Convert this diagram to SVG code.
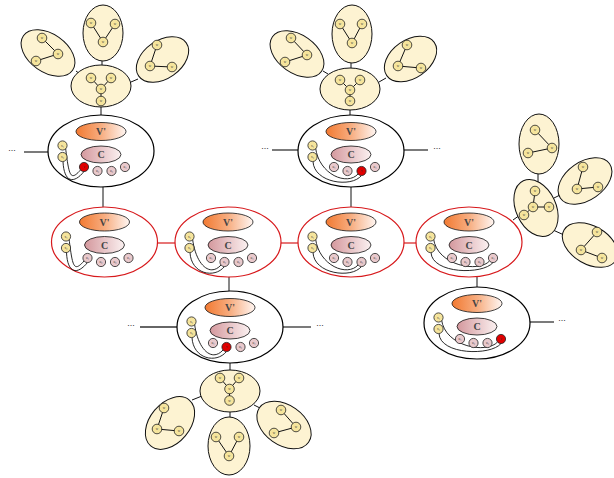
<svg xmlns="http://www.w3.org/2000/svg" width="614" height="478" viewBox="0 0 614 478">
<defs>
<linearGradient id="gV" x1="0" y1="0" x2="1" y2="0"><stop offset="0" stop-color="#f27a32"/><stop offset="0.5" stop-color="#f7ad80"/><stop offset="1" stop-color="#fff6f2"/></linearGradient>
<linearGradient id="gC" x1="0" y1="0" x2="1" y2="0"><stop offset="0" stop-color="#d4989d"/><stop offset="1" stop-color="#fbf1f1"/></linearGradient>
<style>
.big{fill:#fff;stroke:#000;stroke-width:1.2}
.red{fill:#fff;stroke:#d7191c;stroke-width:1.2}
.v{fill:url(#gV);stroke:#111;stroke-width:0.8}
.c{fill:url(#gC);stroke:#111;stroke-width:0.8}
.lab{font-family:"Liberation Serif",serif;font-size:10px;font-weight:bold;fill:#444;text-anchor:middle}
.y{fill:#f5e49c;stroke:#222;stroke-width:0.8}
.p{fill:#e9c9cc;stroke:#222;stroke-width:0.8}
.r{fill:#e00000;stroke:#222;stroke-width:0.8}
.cv{fill:none;stroke:#111;stroke-width:0.9}
.t{font-family:"Liberation Serif",serif;font-size:3.4px;fill:#333;text-anchor:middle}
.cl{fill:#fdf3d2;stroke:#111;stroke-width:1}
.e{stroke:#111;stroke-width:1}
.k{stroke:#111;stroke-width:1}
.side{stroke:#333;stroke-width:1.3}
.rl{stroke:#d7191c;stroke-width:1.2}
.dots{font-family:"Liberation Sans",sans-serif;font-size:9px;fill:#333;text-anchor:middle}
</style>
</defs>

<g id="connectors">
<line class="k" x1="102" y1="61" x2="102" y2="65"/>
<line class="k" x1="76" y1="71" x2="80" y2="74"/>
<line class="k" x1="131" y1="82" x2="138" y2="79"/>
<line class="k" x1="101" y1="107" x2="101" y2="115"/>
<line class="k" x1="351" y1="63" x2="351" y2="68"/>
<line class="k" x1="323" y1="71" x2="328" y2="74"/>
<line class="k" x1="379" y1="82" x2="386" y2="78"/>
<line class="k" x1="350" y1="110" x2="350" y2="115"/>
<line class="k" x1="230" y1="363" x2="230" y2="370"/>
<line class="k" x1="230" y1="412" x2="230" y2="417"/>
<line class="k" x1="192" y1="400" x2="202" y2="396"/>
<line class="k" x1="254" y1="405" x2="260" y2="408"/>
<line class="k" x1="538" y1="174" x2="538" y2="182"/>
<line class="k" x1="554" y1="198" x2="560" y2="195"/>
<line class="k" x1="553" y1="230" x2="564" y2="235"/>
<line class="k" x1="513" y1="220" x2="520" y2="215"/>
<line class="k" x1="103" y1="187" x2="103" y2="207"/>
<line class="k" x1="351" y1="187" x2="351" y2="207"/>
<line class="k" x1="229" y1="277" x2="229" y2="292"/>
<line class="k" x1="477" y1="277" x2="477" y2="287"/>
<line class="rl" x1="157.5" y1="243" x2="175" y2="243"/>
<line class="rl" x1="281" y1="243" x2="298" y2="243"/>
<line class="rl" x1="404" y1="243" x2="416" y2="243"/>
<line class="side" x1="24" y1="152" x2="48" y2="152"/>
<line class="side" x1="272" y1="150" x2="298" y2="150"/>
<line class="side" x1="404" y1="150" x2="428" y2="150"/>
<line class="side" x1="140" y1="327" x2="177" y2="327"/>
<line class="side" x1="283" y1="327" x2="311" y2="327"/>
<line class="side" x1="530" y1="322" x2="554" y2="322"/>
<text class="dots" x="12" y="151">...</text>
<text class="dots" x="265" y="149">...</text>
<text class="dots" x="437" y="149">...</text>
<text class="dots" x="131" y="326">...</text>
<text class="dots" x="320" y="326">...</text>
<text class="dots" x="562" y="321">...</text>
</g>

<!-- cluster A -->
<g id="ca1"><ellipse class="cl" cx="103" cy="33" rx="20" ry="28"/>
<line class="e" x1="91" y1="23" x2="103" y2="42"/><line class="e" x1="115" y1="24" x2="103" y2="42"/>
<circle class="y" cx="91" cy="23" r="4.8"/><text class="t" x="91" y="24.2">w</text>
<circle class="y" cx="115" cy="24" r="4.8"/><text class="t" x="115" y="25.2">w</text>
<circle class="y" cx="103" cy="42" r="4.8"/><text class="t" x="103" y="43.2">w</text></g>
<g id="ca2"><ellipse class="cl" cx="48" cy="53" rx="30" ry="19" transform="rotate(35 48 53)"/>
<line class="e" x1="42" y1="38" x2="58" y2="54"/><line class="e" x1="58" y1="54" x2="36" y2="61"/>
<circle class="y" cx="42" cy="38" r="4.8"/><text class="t" x="42" y="39.2">w</text>
<circle class="y" cx="58" cy="54" r="4.8"/><text class="t" x="58" y="55.2">w</text>
<circle class="y" cx="36" cy="61" r="4.8"/><text class="t" x="36" y="62.2">w</text></g>
<g id="ca3"><ellipse class="cl" cx="162.5" cy="59.5" rx="29" ry="19" transform="rotate(-35 162.5 59.5)"/>
<line class="e" x1="157" y1="45" x2="150" y2="66"/><line class="e" x1="150" y1="66" x2="172" y2="67"/>
<circle class="y" cx="157" cy="45" r="4.8"/><text class="t" x="157" y="46.2">w</text>
<circle class="y" cx="150" cy="66" r="4.8"/><text class="t" x="150" y="67.2">w</text>
<circle class="y" cx="172" cy="67" r="4.8"/><text class="t" x="172" y="68.2">w</text></g>
<g id="ca0"><ellipse class="cl" cx="101" cy="86" rx="30" ry="21"/>
<line class="e" x1="91" y1="78" x2="101" y2="89"/><line class="e" x1="111" y1="78" x2="101" y2="89"/><line class="e" x1="101" y1="89" x2="101" y2="101"/>
<circle class="y" cx="91" cy="78" r="4.8"/><text class="t" x="91" y="79.2">w</text>
<circle class="y" cx="111" cy="78" r="4.8"/><text class="t" x="111" y="79.2">w</text>
<circle class="y" cx="101" cy="89" r="4.8"/><text class="t" x="101" y="90.2">w</text>
<circle class="y" cx="101" cy="101" r="4.8"/><text class="t" x="101" y="102.2">w</text></g>

<!-- cluster B -->
<g id="cb1"><ellipse class="cl" cx="352" cy="34" rx="20" ry="29"/>
<line class="e" x1="340" y1="24" x2="352" y2="43"/><line class="e" x1="362" y1="24" x2="352" y2="43"/>
<circle class="y" cx="340" cy="24" r="4.8"/><text class="t" x="340" y="25.2">w</text>
<circle class="y" cx="362" cy="24" r="4.8"/><text class="t" x="362" y="25.2">w</text>
<circle class="y" cx="352" cy="43" r="4.8"/><text class="t" x="352" y="44.2">w</text></g>
<g id="cb2"><ellipse class="cl" cx="297" cy="54" rx="30" ry="19" transform="rotate(35 297 54)"/>
<line class="e" x1="291" y1="38" x2="307" y2="55"/><line class="e" x1="307" y1="55" x2="285" y2="62"/>
<circle class="y" cx="291" cy="38" r="4.8"/><text class="t" x="291" y="39.2">w</text>
<circle class="y" cx="307" cy="55" r="4.8"/><text class="t" x="307" y="56.2">w</text>
<circle class="y" cx="285" cy="62" r="4.8"/><text class="t" x="285" y="63.2">w</text></g>
<g id="cb3"><ellipse class="cl" cx="410.5" cy="59" rx="29" ry="19" transform="rotate(-35 410.5 59)"/>
<line class="e" x1="407" y1="45" x2="398" y2="66"/><line class="e" x1="398" y1="66" x2="421" y2="68"/>
<circle class="y" cx="407" cy="45" r="4.8"/><text class="t" x="407" y="46.2">w</text>
<circle class="y" cx="398" cy="66" r="4.8"/><text class="t" x="398" y="67.2">w</text>
<circle class="y" cx="421" cy="68" r="4.8"/><text class="t" x="421" y="69.2">w</text></g>
<g id="cb0"><ellipse class="cl" cx="350" cy="89" rx="30" ry="21"/>
<line class="e" x1="340" y1="80" x2="350" y2="90"/><line class="e" x1="360" y1="80" x2="350" y2="90"/><line class="e" x1="350" y1="90" x2="350" y2="101"/>
<circle class="y" cx="340" cy="80" r="4.8"/><text class="t" x="340" y="81.2">w</text>
<circle class="y" cx="360" cy="80" r="4.8"/><text class="t" x="360" y="81.2">w</text>
<circle class="y" cx="350" cy="90" r="4.8"/><text class="t" x="350" y="91.2">w</text>
<circle class="y" cx="350" cy="101" r="4.8"/><text class="t" x="350" y="102.2">w</text></g>

<!-- cluster D -->
<g id="cd0"><ellipse class="cl" cx="230" cy="391" rx="30" ry="21"/>
<line class="e" x1="220" y1="378" x2="229.5" y2="389"/><line class="e" x1="239" y1="378" x2="229.5" y2="389"/><line class="e" x1="229.5" y1="389" x2="229.5" y2="400.5"/>
<circle class="y" cx="220" cy="378" r="4.8"/><text class="t" x="220" y="379.2">w</text>
<circle class="y" cx="239" cy="378" r="4.8"/><text class="t" x="239" y="379.2">w</text>
<circle class="y" cx="229.5" cy="389" r="4.8"/><text class="t" x="229.5" y="390.2">w</text>
<circle class="y" cx="229.5" cy="400.5" r="4.8"/><text class="t" x="229.5" y="401.7">w</text></g>
<g id="cd1"><ellipse class="cl" cx="229" cy="446" rx="21" ry="29"/>
<line class="e" x1="216" y1="437" x2="229" y2="456"/><line class="e" x1="239" y1="437" x2="229" y2="456"/>
<circle class="y" cx="216" cy="437" r="4.8"/><text class="t" x="216" y="438.2">w</text>
<circle class="y" cx="239" cy="437" r="4.8"/><text class="t" x="239" y="438.2">w</text>
<circle class="y" cx="229" cy="456" r="4.8"/><text class="t" x="229" y="457.2">w</text></g>
<g id="cd2"><ellipse class="cl" cx="170" cy="423" rx="30" ry="20" transform="rotate(-50 170 423)"/>
<line class="e" x1="164" y1="408" x2="157" y2="429"/><line class="e" x1="157" y1="429" x2="179" y2="431"/>
<circle class="y" cx="164" cy="408" r="4.8"/><text class="t" x="164" y="409.2">w</text>
<circle class="y" cx="157" cy="429" r="4.8"/><text class="t" x="157" y="430.2">w</text>
<circle class="y" cx="179" cy="431" r="4.8"/><text class="t" x="179" y="432.2">w</text></g>
<g id="cd3"><ellipse class="cl" cx="284" cy="425" rx="30" ry="20" transform="rotate(35 284 425)"/>
<line class="e" x1="281" y1="410" x2="296" y2="427"/><line class="e" x1="296" y1="427" x2="274" y2="433"/>
<circle class="y" cx="281" cy="410" r="4.8"/><text class="t" x="281" y="411.2">w</text>
<circle class="y" cx="296" cy="427" r="4.8"/><text class="t" x="296" y="428.2">w</text>
<circle class="y" cx="274" cy="433" r="4.8"/><text class="t" x="274" y="434.2">w</text></g>

<!-- cluster R -->
<g id="cr1"><ellipse class="cl" cx="539" cy="144" rx="20" ry="30"/>
<line class="e" x1="535" y1="130" x2="552" y2="148"/><line class="e" x1="552" y1="148" x2="528" y2="153"/>
<circle class="y" cx="535" cy="130" r="4.8"/><text class="t" x="535" y="131.2">w</text>
<circle class="y" cx="552" cy="148" r="4.8"/><text class="t" x="552" y="149.2">w</text>
<circle class="y" cx="528" cy="153" r="4.8"/><text class="t" x="528" y="154.2">w</text></g>
<g id="cr2"><ellipse class="cl" cx="585" cy="181" rx="30" ry="19" transform="rotate(-35 585 181)"/>
<line class="e" x1="583" y1="167" x2="577" y2="189"/><line class="e" x1="577" y1="189" x2="598" y2="187"/>
<circle class="y" cx="583" cy="167" r="4.8"/><text class="t" x="583" y="168.2">w</text>
<circle class="y" cx="577" cy="189" r="4.8"/><text class="t" x="577" y="190.2">w</text>
<circle class="y" cx="598" cy="187" r="4.8"/><text class="t" x="598" y="188.2">w</text></g>
<g id="cr3"><ellipse class="cl" cx="590" cy="245" rx="30" ry="19" transform="rotate(30 590 245)"/>
<line class="e" x1="597" y1="232" x2="581" y2="250"/><line class="e" x1="581" y1="250" x2="602" y2="258"/>
<circle class="y" cx="597" cy="232" r="4.8"/><text class="t" x="597" y="233.2">w</text>
<circle class="y" cx="581" cy="250" r="4.8"/><text class="t" x="581" y="251.2">w</text>
<circle class="y" cx="602" cy="258" r="4.8"/><text class="t" x="602" y="259.2">w</text></g>
<g id="cr0"><ellipse class="cl" cx="536" cy="208" rx="20" ry="30" transform="rotate(-25 536 208)"/>
<line class="e" x1="535" y1="191" x2="533" y2="207"/><line class="e" x1="533" y1="207" x2="549" y2="207"/><line class="e" x1="533" y1="207" x2="524" y2="215"/>
<circle class="y" cx="535" cy="191" r="4.8"/><text class="t" x="535" y="192.2">w</text>
<circle class="y" cx="549" cy="207" r="4.8"/><text class="t" x="549" y="208.2">w</text>
<circle class="y" cx="533" cy="207" r="4.8"/><text class="t" x="533" y="208.2">w</text>
<circle class="y" cx="524" cy="215" r="4.8"/><text class="t" x="524" y="216.2">w</text></g>

<!-- big node A -->
<g id="nodeA" transform="translate(101,151)">
<ellipse class="big" rx="53" ry="36"/>
<ellipse class="v" cy="-19.5" rx="25" ry="9"/><text class="lab" y="-16">V'</text>
<ellipse class="c" cy="3.5" rx="20" ry="8.5"/><text class="lab" y="7">C</text>
<path class="cv" d="M-35.5,-3.5 C-32,24 -31,31 -20.5,19"/>
<path class="cv" d="M-38,10.5 C-37,32 -27,33 -17,20.5"/>
<circle class="y" cx="-38.5" cy="-5.5" r="4.6"/><text class="t" x="-38.5" y="-4.3">x₁</text>
<circle class="y" cx="-38.5" cy="6" r="4.6"/><text class="t" x="-38.5" y="7.2">x₂</text>
<circle class="r" cx="-17" cy="16" r="4.6"/><text class="t" x="-17" y="17.2">v</text>
<circle class="p" cx="-3.5" cy="20" r="4.6"/><text class="t" x="-3.5" y="21.2">u₂</text>
<circle class="p" cx="10.5" cy="20" r="4.6"/><text class="t" x="10.5" y="21.2">u₃</text>
<circle class="p" cx="24" cy="16" r="4.6"/><text class="t" x="24" y="17.2">u₄</text>
</g>

<!-- big node B -->
<g id="nodeB" transform="translate(351,151)">
<ellipse class="big" rx="53" ry="36"/>
<ellipse class="v" cy="-19.5" rx="25" ry="9"/><text class="lab" y="-16">V'</text>
<ellipse class="c" cy="3.5" rx="20" ry="8.5"/><text class="lab" y="7">C</text>
<path class="cv" d="M-35.5,-3.5 C-32,24 -3.5,35 7,23"/>
<path class="cv" d="M-38,10.5 C-37,32 0.5,37 10.5,24.5"/>
<circle class="y" cx="-38.5" cy="-5.5" r="4.6"/><text class="t" x="-38.5" y="-4.3">x₁</text>
<circle class="y" cx="-38.5" cy="6" r="4.6"/><text class="t" x="-38.5" y="7.2">x₂</text>
<circle class="p" cx="-17" cy="16" r="4.6"/><text class="t" x="-17" y="17.2">u₁</text>
<circle class="p" cx="-3.5" cy="20" r="4.6"/><text class="t" x="-3.5" y="21.2">u₂</text>
<circle class="r" cx="10.5" cy="20" r="4.6"/><text class="t" x="10.5" y="21.2">v</text>
<circle class="p" cx="24" cy="16" r="4.6"/><text class="t" x="24" y="17.2">u₄</text>
</g>

<!-- big node D -->
<g id="nodeD" transform="translate(230,327)">
<ellipse class="big" rx="53" ry="36"/>
<ellipse class="v" cy="-19.5" rx="25" ry="9"/><text class="lab" y="-16">V'</text>
<ellipse class="c" cy="3.5" rx="20" ry="8.5"/><text class="lab" y="7">C</text>
<path class="cv" d="M-35.5,-3.5 C-32,24 -17.5,35 -7,23"/>
<path class="cv" d="M-38,10.5 C-37,32 -13.5,37 -3.5,24.5"/>
<circle class="y" cx="-38.5" cy="-5.5" r="4.6"/><text class="t" x="-38.5" y="-4.3">x₁</text>
<circle class="y" cx="-38.5" cy="6" r="4.6"/><text class="t" x="-38.5" y="7.2">x₂</text>
<circle class="p" cx="-17" cy="16" r="4.6"/><text class="t" x="-17" y="17.2">u₁</text>
<circle class="r" cx="-3.5" cy="20" r="4.6"/><text class="t" x="-3.5" y="21.2">v</text>
<circle class="p" cx="10.5" cy="20" r="4.6"/><text class="t" x="10.5" y="21.2">u₃</text>
<circle class="p" cx="24" cy="16" r="4.6"/><text class="t" x="24" y="17.2">u₄</text>
</g>

<!-- big node E -->
<g id="nodeE" transform="translate(477,323)">
<ellipse class="big" rx="53" ry="36"/>
<ellipse class="v" cy="-19.5" rx="25" ry="9"/><text class="lab" y="-16">V'</text>
<ellipse class="c" cy="3.5" rx="20" ry="8.5"/><text class="lab" y="7">C</text>
<path class="cv" d="M-35.5,-3.5 C-32,24 10,31 20.5,19"/>
<path class="cv" d="M-38,10.5 C-37,32 14,33 24,20.5"/>
<circle class="y" cx="-38.5" cy="-5.5" r="4.6"/><text class="t" x="-38.5" y="-4.3">x₁</text>
<circle class="y" cx="-38.5" cy="6" r="4.6"/><text class="t" x="-38.5" y="7.2">x₂</text>
<circle class="p" cx="-17" cy="16" r="4.6"/><text class="t" x="-17" y="17.2">u₁</text>
<circle class="p" cx="-3.5" cy="20" r="4.6"/><text class="t" x="-3.5" y="21.2">u₂</text>
<circle class="p" cx="10.5" cy="20" r="4.6"/><text class="t" x="10.5" y="21.2">u₃</text>
<circle class="r" cx="24" cy="16" r="4.6"/><text class="t" x="24" y="17.2">v</text>
</g>

<!-- red nodes -->
<g id="red1" transform="translate(104.5,242)">
<ellipse class="red" rx="53" ry="35"/>
<ellipse class="v" cy="-20" rx="25" ry="9"/><text class="lab" y="-16.5">V'</text>
<ellipse class="c" cy="3" rx="20" ry="8.5"/><text class="lab" y="6.5">C</text>
<path class="cv" d="M-35.5,-3.5 C-32,24 -31,31 -20.5,19"/>
<path class="cv" d="M-38,10.5 C-37,32 -27,33 -17,20.5"/>
<circle class="y" cx="-38.5" cy="-5.5" r="4.6"/><text class="t" x="-38.5" y="-4.3">x₁</text>
<circle class="y" cx="-38.5" cy="6" r="4.6"/><text class="t" x="-38.5" y="7.2">x₂</text>
<circle class="p" cx="-17" cy="16" r="4.6"/><text class="t" x="-17" y="17.2">u₁</text>
<circle class="p" cx="-3.5" cy="20" r="4.6"/><text class="t" x="-3.5" y="21.2">u₂</text>
<circle class="p" cx="10.5" cy="20" r="4.6"/><text class="t" x="10.5" y="21.2">u₃</text>
<circle class="p" cx="24" cy="16" r="4.6"/><text class="t" x="24" y="17.2">u₄</text>
</g>
<g id="red2" transform="translate(228,242)">
<ellipse class="red" rx="53" ry="35"/>
<ellipse class="v" cy="-20" rx="25" ry="9"/><text class="lab" y="-16.5">V'</text>
<ellipse class="c" cy="3" rx="20" ry="8.5"/><text class="lab" y="6.5">C</text>
<path class="cv" d="M-35.5,-3.5 C-32,24 -17.5,35 -7,23"/>
<path class="cv" d="M-38,10.5 C-37,32 -13.5,37 -3.5,24.5"/>
<circle class="y" cx="-38.5" cy="-5.5" r="4.6"/><text class="t" x="-38.5" y="-4.3">x₁</text>
<circle class="y" cx="-38.5" cy="6" r="4.6"/><text class="t" x="-38.5" y="7.2">x₂</text>
<circle class="p" cx="-17" cy="16" r="4.6"/><text class="t" x="-17" y="17.2">u₁</text>
<circle class="p" cx="-3.5" cy="20" r="4.6"/><text class="t" x="-3.5" y="21.2">u₂</text>
<circle class="p" cx="10.5" cy="20" r="4.6"/><text class="t" x="10.5" y="21.2">u₃</text>
<circle class="p" cx="24" cy="16" r="4.6"/><text class="t" x="24" y="17.2">u₄</text>
</g>
<g id="red3" transform="translate(351,242)">
<ellipse class="red" rx="53" ry="35"/>
<ellipse class="v" cy="-20" rx="25" ry="9"/><text class="lab" y="-16.5">V'</text>
<ellipse class="c" cy="3" rx="20" ry="8.5"/><text class="lab" y="6.5">C</text>
<path class="cv" d="M-35.5,-3.5 C-32,24 -3.5,35 7,23"/>
<path class="cv" d="M-38,10.5 C-37,32 0.5,37 10.5,24.5"/>
<circle class="y" cx="-38.5" cy="-5.5" r="4.6"/><text class="t" x="-38.5" y="-4.3">x₁</text>
<circle class="y" cx="-38.5" cy="6" r="4.6"/><text class="t" x="-38.5" y="7.2">x₂</text>
<circle class="p" cx="-17" cy="16" r="4.6"/><text class="t" x="-17" y="17.2">u₁</text>
<circle class="p" cx="-3.5" cy="20" r="4.6"/><text class="t" x="-3.5" y="21.2">u₂</text>
<circle class="p" cx="10.5" cy="20" r="4.6"/><text class="t" x="10.5" y="21.2">u₃</text>
<circle class="p" cx="24" cy="16" r="4.6"/><text class="t" x="24" y="17.2">u₄</text>
</g>
<g id="red4" transform="translate(469,242)">
<ellipse class="red" rx="53" ry="35"/>
<ellipse class="v" cy="-20" rx="25" ry="9"/><text class="lab" y="-16.5">V'</text>
<ellipse class="c" cy="3" rx="20" ry="8.5"/><text class="lab" y="6.5">C</text>
<path class="cv" d="M-35.5,-3.5 C-32,24 10,31 20.5,19"/>
<path class="cv" d="M-38,10.5 C-37,32 14,33 24,20.5"/>
<circle class="y" cx="-38.5" cy="-5.5" r="4.6"/><text class="t" x="-38.5" y="-4.3">x₁</text>
<circle class="y" cx="-38.5" cy="6" r="4.6"/><text class="t" x="-38.5" y="7.2">x₂</text>
<circle class="p" cx="-17" cy="16" r="4.6"/><text class="t" x="-17" y="17.2">u₁</text>
<circle class="p" cx="-3.5" cy="20" r="4.6"/><text class="t" x="-3.5" y="21.2">u₂</text>
<circle class="p" cx="10.5" cy="20" r="4.6"/><text class="t" x="10.5" y="21.2">u₃</text>
<circle class="p" cx="24" cy="16" r="4.6"/><text class="t" x="24" y="17.2">u₄</text>
</g>
</svg>
